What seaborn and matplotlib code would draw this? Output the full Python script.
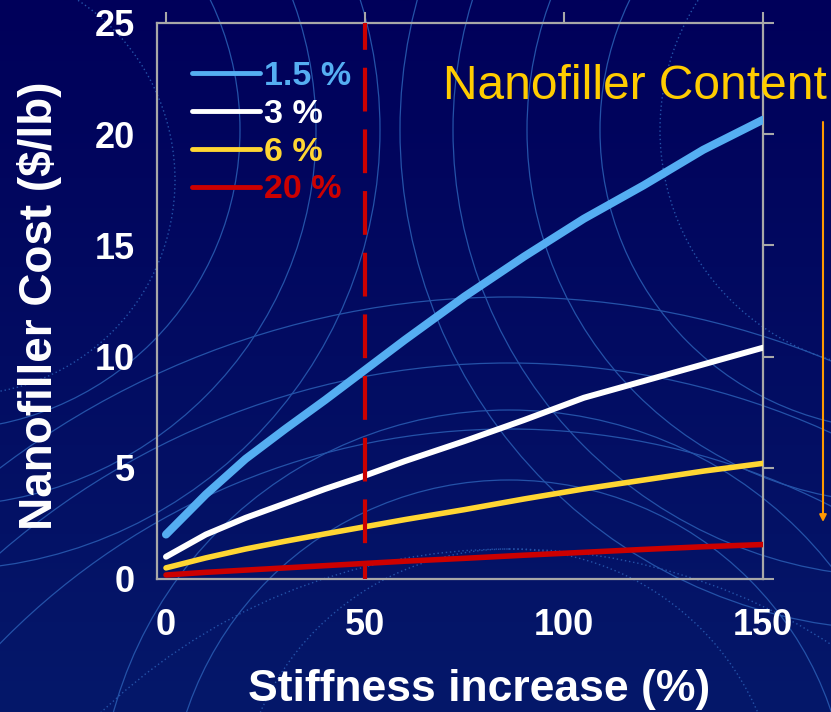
import numpy as np
import pandas as pd
import matplotlib
matplotlib.use('Agg')
import matplotlib.pyplot as plt
import seaborn as sns
from matplotlib.lines import Line2D
from matplotlib.patches import Circle
from matplotlib.colors import LinearSegmentedColormap

# ---------------- data ----------------
stiffness = [0, 10, 20, 30, 40, 50, 60, 75, 90, 105, 120, 135, 150]
cost_1_5 = [2.0, 3.8, 5.4, 6.75, 8.05, 9.4, 10.75, 12.7, 14.5, 16.2, 17.7, 19.3, 20.65]
cost_3 = [1.0, 2.0, 2.75, 3.4, 4.05, 4.65, 5.3, 6.2, 7.15, 8.15, 8.9, 9.65, 10.4]
cost_6 = [0.5, 0.95, 1.35, 1.7, 2.03, 2.35, 2.67, 3.12, 3.6, 4.05, 4.45, 4.85, 5.2]
cost_20 = [0.18, 0.3, 0.4, 0.5, 0.6, 0.7, 0.8, 0.93, 1.07, 1.2, 1.33, 1.45, 1.55]
series_labels = ['1.5 %', '3 %', '6 %', '20 %']
x_ticks = [0, 50, 100, 150]
y_ticks = [0, 5, 10, 15, 20, 25]
threshold = 50

colors = ['#55AEF2', '#FFFFFF', '#FFD633', '#CC0000']
widths = [5.8, 4.3, 4.0, 4.0]

sns.set_style('dark')
plt.rcParams['font.family'] = ['Liberation Sans', 'DejaVu Sans']
plt.rcParams['font.weight'] = 'bold'

fig = plt.figure(figsize=(8.31, 7.12), dpi=100)

# ---------------- background ----------------
bg = fig.add_axes([0, 0, 1, 1], zorder=-10)
grad = np.linspace(0, 1, 256).reshape(-1, 1)
cmap = LinearSegmentedColormap.from_list('bg', ['#00005a', '#05186a'])
bg.imshow(grad, cmap=cmap, aspect='auto', extent=[0, 831, 712, 0])
arc_col = '#2452a8'
for (cx, cy), radii, dotted in [
    ((509, 1140), [843, 777, 711], []),
    ((509, 1140), [], [591]),
    ((-60, 130), [300, 376, 440], []),
    ((900, 130), [300, 373, 447, 500], [240]),
    ((509, 820), [340, 410], [271]),
    ((-40, 180), [], [215]),
]:
    for r in radii:
        bg.add_patch(Circle((cx, cy), r, fill=False, ec=arc_col, lw=0.9))
    for r in dotted:
        bg.add_patch(Circle((cx, cy), r, fill=False, ec=arc_col, lw=1.0, ls=(0, (1, 2))))
bg.set_xlim(0, 831)
bg.set_ylim(712, 0)
bg.axis('off')

# ---------------- main axes ----------------
ax = fig.add_axes([157 / 831, 1 - 579 / 712, 606 / 831, 556 / 712])
ax.set_facecolor('none')

series = [cost_1_5, cost_3, cost_6, cost_20]
for vals, lab, col, lw in zip(series, series_labels, colors, widths):
    df = pd.DataFrame({'stiffness': stiffness, 'cost': vals})
    sns.lineplot(data=df, x='stiffness', y='cost', ax=ax, color=col,
                 linewidth=lw, legend=False, zorder=3)

ax.axvline(threshold, color='#CC0000', lw=3.0, ls=(6.2, (10.5, 4.3)), zorder=4)

ax.set_xlim(-2.26, 150)
ax.set_ylim(0, 25)
ax.set_xticks(x_ticks)
ax.set_yticks(y_ticks)
ax.grid(False)
for s in ax.spines.values():
    s.set_visible(True)
    s.set_color('#a8a8a8')
    s.set_linewidth(1.6)
ax.tick_params(which='both', direction='out', length=8, width=1.5,
               color='#a8a8a8', top=True, right=True, labelcolor='white',
               labelsize=26)
ax.tick_params(axis='x', pad=13)
ax.tick_params(axis='y', pad=8)

ax.set_xlabel('Stiffness increase (%)', fontsize=32, color='white', fontweight='bold')
ax.set_ylabel('Nanofiller Cost ($/lb)', fontsize=33, color='white', fontweight='bold')
ax.xaxis.label.set_va('baseline')
ax.xaxis.set_label_coords((479 - 157) / 606, (579 - 701) / 556)
ax.yaxis.label.set_va('center')
ax.yaxis.set_label_coords((40 - 157) / 606, (579 - 306) / 556)

handles = [Line2D([0], [0], color=c, lw=3.5) for c in colors]
leg = ax.legend(handles, series_labels, loc='upper left',
                bbox_to_anchor=(35 / 606, 1 - 38 / 556), frameon=False,
                prop={'weight': 'bold', 'size': 24.5}, handlelength=2.0,
                handletextpad=0.12, labelspacing=0.2, borderpad=0,
                borderaxespad=0)
for t, c in zip(leg.get_texts(), colors):
    t.set_color(c)

fig.text(443 / 831, 1 - 99 / 712, 'Nanofiller Content', fontsize=34.5,
         fontweight='normal', color='#FFCC00', va='baseline', ha='left')

ax.annotate('', xy=(823 / 831, 1 - 522 / 712), xytext=(823 / 831, 1 - 122 / 712),
            xycoords='figure fraction', textcoords='figure fraction',
            arrowprops=dict(arrowstyle='-|>', color='#FF9900', lw=1.5,
                            mutation_scale=10, shrinkA=0, shrinkB=0))

fig.savefig('out.png', dpi=100)
